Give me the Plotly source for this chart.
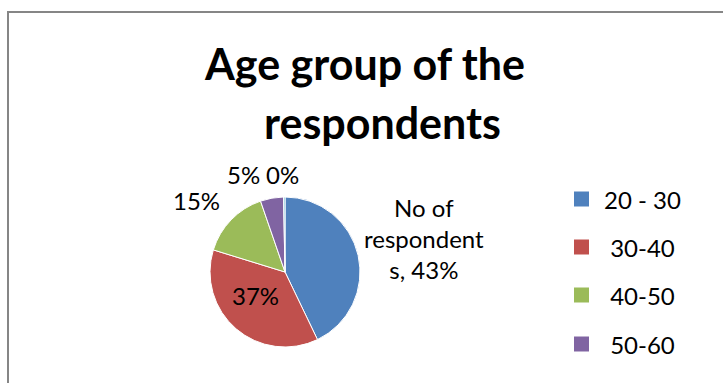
import plotly.graph_objects as go

# Respondents by age group (share of total, %)
age_groups = ["20 - 30", " 30-40", " 40-50", " 50-60", "60 & above"]
respondents = [43, 37, 15, 5, 0.3]
series_name = "No of respondents"
colors = ["#4F81BD", "#C0504D", "#9BBB59", "#8064A2", "#4BACC6"]

W, H = 723, 383
FONT = "Lato"

total = sum(respondents)
shares = [v / total for v in respondents]
pct = [f"{s:.0%}" for s in shares]

fig = go.Figure(
    go.Pie(
        labels=age_groups,
        values=respondents,
        sort=False,
        direction="clockwise",
        rotation=0,
        marker=dict(colors=colors, line=dict(color="white", width=1)),
        textinfo="none",
        showlegend=False,
        domain=dict(x=[210 / W, 360 / W], y=[1 - 347 / H, 1 - 197 / H]),
        hovertemplate="%{label}: %{percent}<extra></extra>",
    )
)

def px(x):
    return x / W

def py(y):
    return 1 - y / H

annotations = []

# chart title, two centred lines
annotations.append(dict(x=px(364), y=py(63), text="<b>Age group of the</b>",
                        font=dict(family=FONT, size=43, color="black")))
annotations.append(dict(x=px(382), y=py(123), text="<b>respondents</b>",
                        font=dict(family=FONT, size=43, color="black")))

# data labels
label_pos = [(424, 238), (255, 295), (197, 200), (243, 175), (282, 175)]
label_text = [
    f"No of<br>respondent<br>s, {pct[0]}",
    pct[1], pct[2], pct[3], pct[4],
]
for (lx, ly), t in zip(label_pos, label_text):
    annotations.append(dict(x=px(lx), y=py(ly), text=t,
                            font=dict(family=FONT, size=24, color="black")))

shapes = []
# chart-area border
shapes.append(dict(type="rect", xref="paper", yref="paper",
                   x0=px(8), x1=1.05, y0=-0.05, y1=py(12),
                   line=dict(color="#868686", width=2), fillcolor="rgba(0,0,0,0)"))

# key for the first four groups
key_y = [199, 247, 295, 344]
for grp, col, ky in zip(age_groups[:4], colors[:4], key_y):
    shapes.append(dict(type="rect", xref="paper", yref="paper",
                       x0=px(574), x1=px(589), y0=py(ky + 7.5), y1=py(ky - 7.5),
                       line=dict(width=0), fillcolor=col))
    annotations.append(dict(x=px(602), y=py(ky), xanchor="left", text=grp.replace(" ", "&nbsp;") if grp.startswith(" ") else grp,
                            font=dict(family=FONT, size=24, color="black")))

for a in annotations:
    a.setdefault("xref", "paper")
    a.setdefault("yref", "paper")
    a.setdefault("showarrow", False)
    a.setdefault("yanchor", "middle")
    a.setdefault("xanchor", "center")

fig.update_layout(
    width=W, height=H,
    margin=dict(l=0, r=0, t=0, b=0),
    paper_bgcolor="white",
    plot_bgcolor="white",
    annotations=annotations,
    shapes=shapes,
    font=dict(family=FONT),
)

fig.write_html("out.html")
